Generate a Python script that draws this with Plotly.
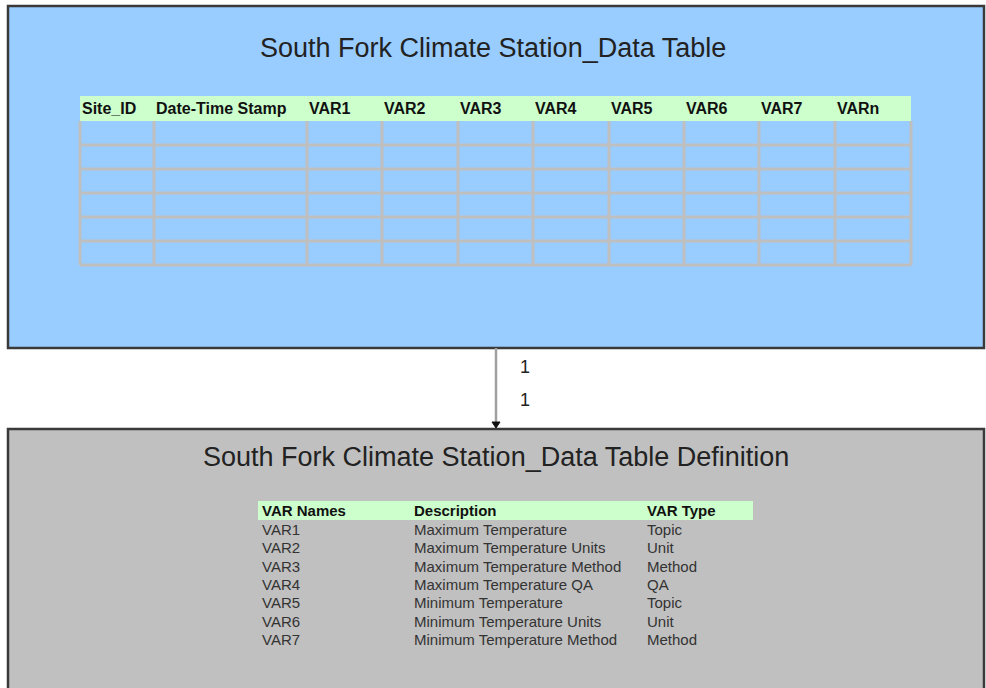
import plotly.graph_objects as go

# ---------------- data ----------------
top_title = "South Fork Climate Station_Data Table"
top_columns = ["Site_ID", "Date-Time Stamp", "VAR1", "VAR2", "VAR3", "VAR4",
               "VAR5", "VAR6", "VAR7", "VARn"]
n_blank_rows = 6

def_title = "South Fork Climate Station_Data Table Definition"
def_columns = ["VAR Names", "Description", "VAR Type"]
var_names = ["VAR1", "VAR2", "VAR3", "VAR4", "VAR5", "VAR6", "VAR7"]
descriptions = ["Maximum Temperature", "Maximum Temperature Units",
                "Maximum Temperature Method", "Maximum Temperature QA",
                "Minimum Temperature", "Minimum Temperature Units",
                "Minimum Temperature Method"]
var_types = ["Topic", "Unit", "Method", "QA", "Topic", "Unit", "Method"]
cardinality = ["1", "1"]

# ---------------- layout constants ----------------
W, H = 986, 688
BLUE, GRAY, GREEN = "#99ccff", "#c0c0c0", "#ccffcc"
BORDER = "#3a3a3a"
GRID = "#bfbfbf"

top_box = (8, 6, 984, 348)
bot_box = (8, 429, 984, 720)

top_edges = [80, 154, 307, 382, 458, 533, 609, 684, 759, 835, 911]
top_hdr_y = (96, 121)
row_lines = [121, 145, 169, 193, 217, 241, 265]

def_x = [260, 412, 645]
def_hdr = (258, 753, 501, 520)
def_row_y0, def_row_dy = 529.5, 18.35

FONT = "Liberation Sans, Arial, sans-serif"
NARROW = "Liberation Sans Narrow, Arial Narrow, Liberation Sans, sans-serif"

shapes = []
annotations = []


def rect(x0, y0, x1, y1, fill, line=None, lw=0):
    shapes.append(dict(type="rect", xref="x", yref="y", x0=x0, y0=y0, x1=x1, y1=y1,
                       fillcolor=fill, line=dict(color=line or fill, width=lw),
                       layer="below"))


def line(x0, y0, x1, y1, color, w):
    shapes.append(dict(type="line", xref="x", yref="y", x0=x0, y0=y0, x1=x1, y1=y1,
                       line=dict(color=color, width=w), layer="below"))


def text(x, y, s, size, color="#222222", family=FONT, xanchor="left", bold=False):
    annotations.append(dict(x=x, y=y, xref="x", yref="y", text=f"<b>{s}</b>" if bold else s,
                            showarrow=False, xanchor=xanchor, yanchor="middle",
                            font=dict(size=size, color=color, family=family)))


# boxes
rect(*top_box, BLUE, BORDER, 2.5)
rect(*bot_box, GRAY, BORDER, 2.5)

# top table
rect(top_edges[0], top_hdr_y[0], top_edges[-1], top_hdr_y[1], GREEN)
for y in row_lines[1:]:
    line(top_edges[0], y, top_edges[-1], y, GRID, 3)
for x in top_edges:
    line(x, top_hdr_y[1], x, row_lines[-1], GRID, 3)
for i, c in enumerate(top_columns):
    text(top_edges[i], 108.5, c, 16, "#111111", NARROW, bold=True)
text(493, 48, top_title, 27, "#222222", xanchor="center")

# connector
mid_x = 496
line(mid_x, top_box[3], mid_x, bot_box[1] - 6, "#a0a0a0", 2.5)
shapes.append(dict(type="path", xref="x", yref="y",
                   path=f"M {mid_x-4},{bot_box[1]-7} L {mid_x+4},{bot_box[1]-7} L {mid_x},{bot_box[1]-1} Z",
                   fillcolor="#111111", line=dict(color="#111111", width=1)))
for lbl, y in zip(cardinality, [367, 400]):
    text(525, y, lbl, 18, "#222222", xanchor="center")

# definition table
text(496, 457, def_title, 27, "#222222", xanchor="center")
rect(def_hdr[0], def_hdr[2], def_hdr[1], def_hdr[3], GREEN)
for x, c in zip(def_x, def_columns):
    text(x, 510.5, c, 15, "#111111", bold=True)
for i, (n, d, t) in enumerate(zip(var_names, descriptions, var_types)):
    y = def_row_y0 + i * def_row_dy
    for x, s in zip(def_x, (n, d, t)):
        text(x, y, s, 15, "#333333")

fig = go.Figure()
fig.update_layout(
    width=W, height=H, margin=dict(l=0, r=0, t=0, b=0),
    paper_bgcolor="white", plot_bgcolor="white",
    xaxis=dict(range=[0, W], visible=False, fixedrange=True),
    yaxis=dict(range=[H, 0], visible=False, fixedrange=True),
    shapes=shapes, annotations=annotations, showlegend=False,
)
fig.write_html("out.html", config={"displayModeBar": False},
               post_script="document.body.style.margin='0';document.body.style.overflow='hidden';")
